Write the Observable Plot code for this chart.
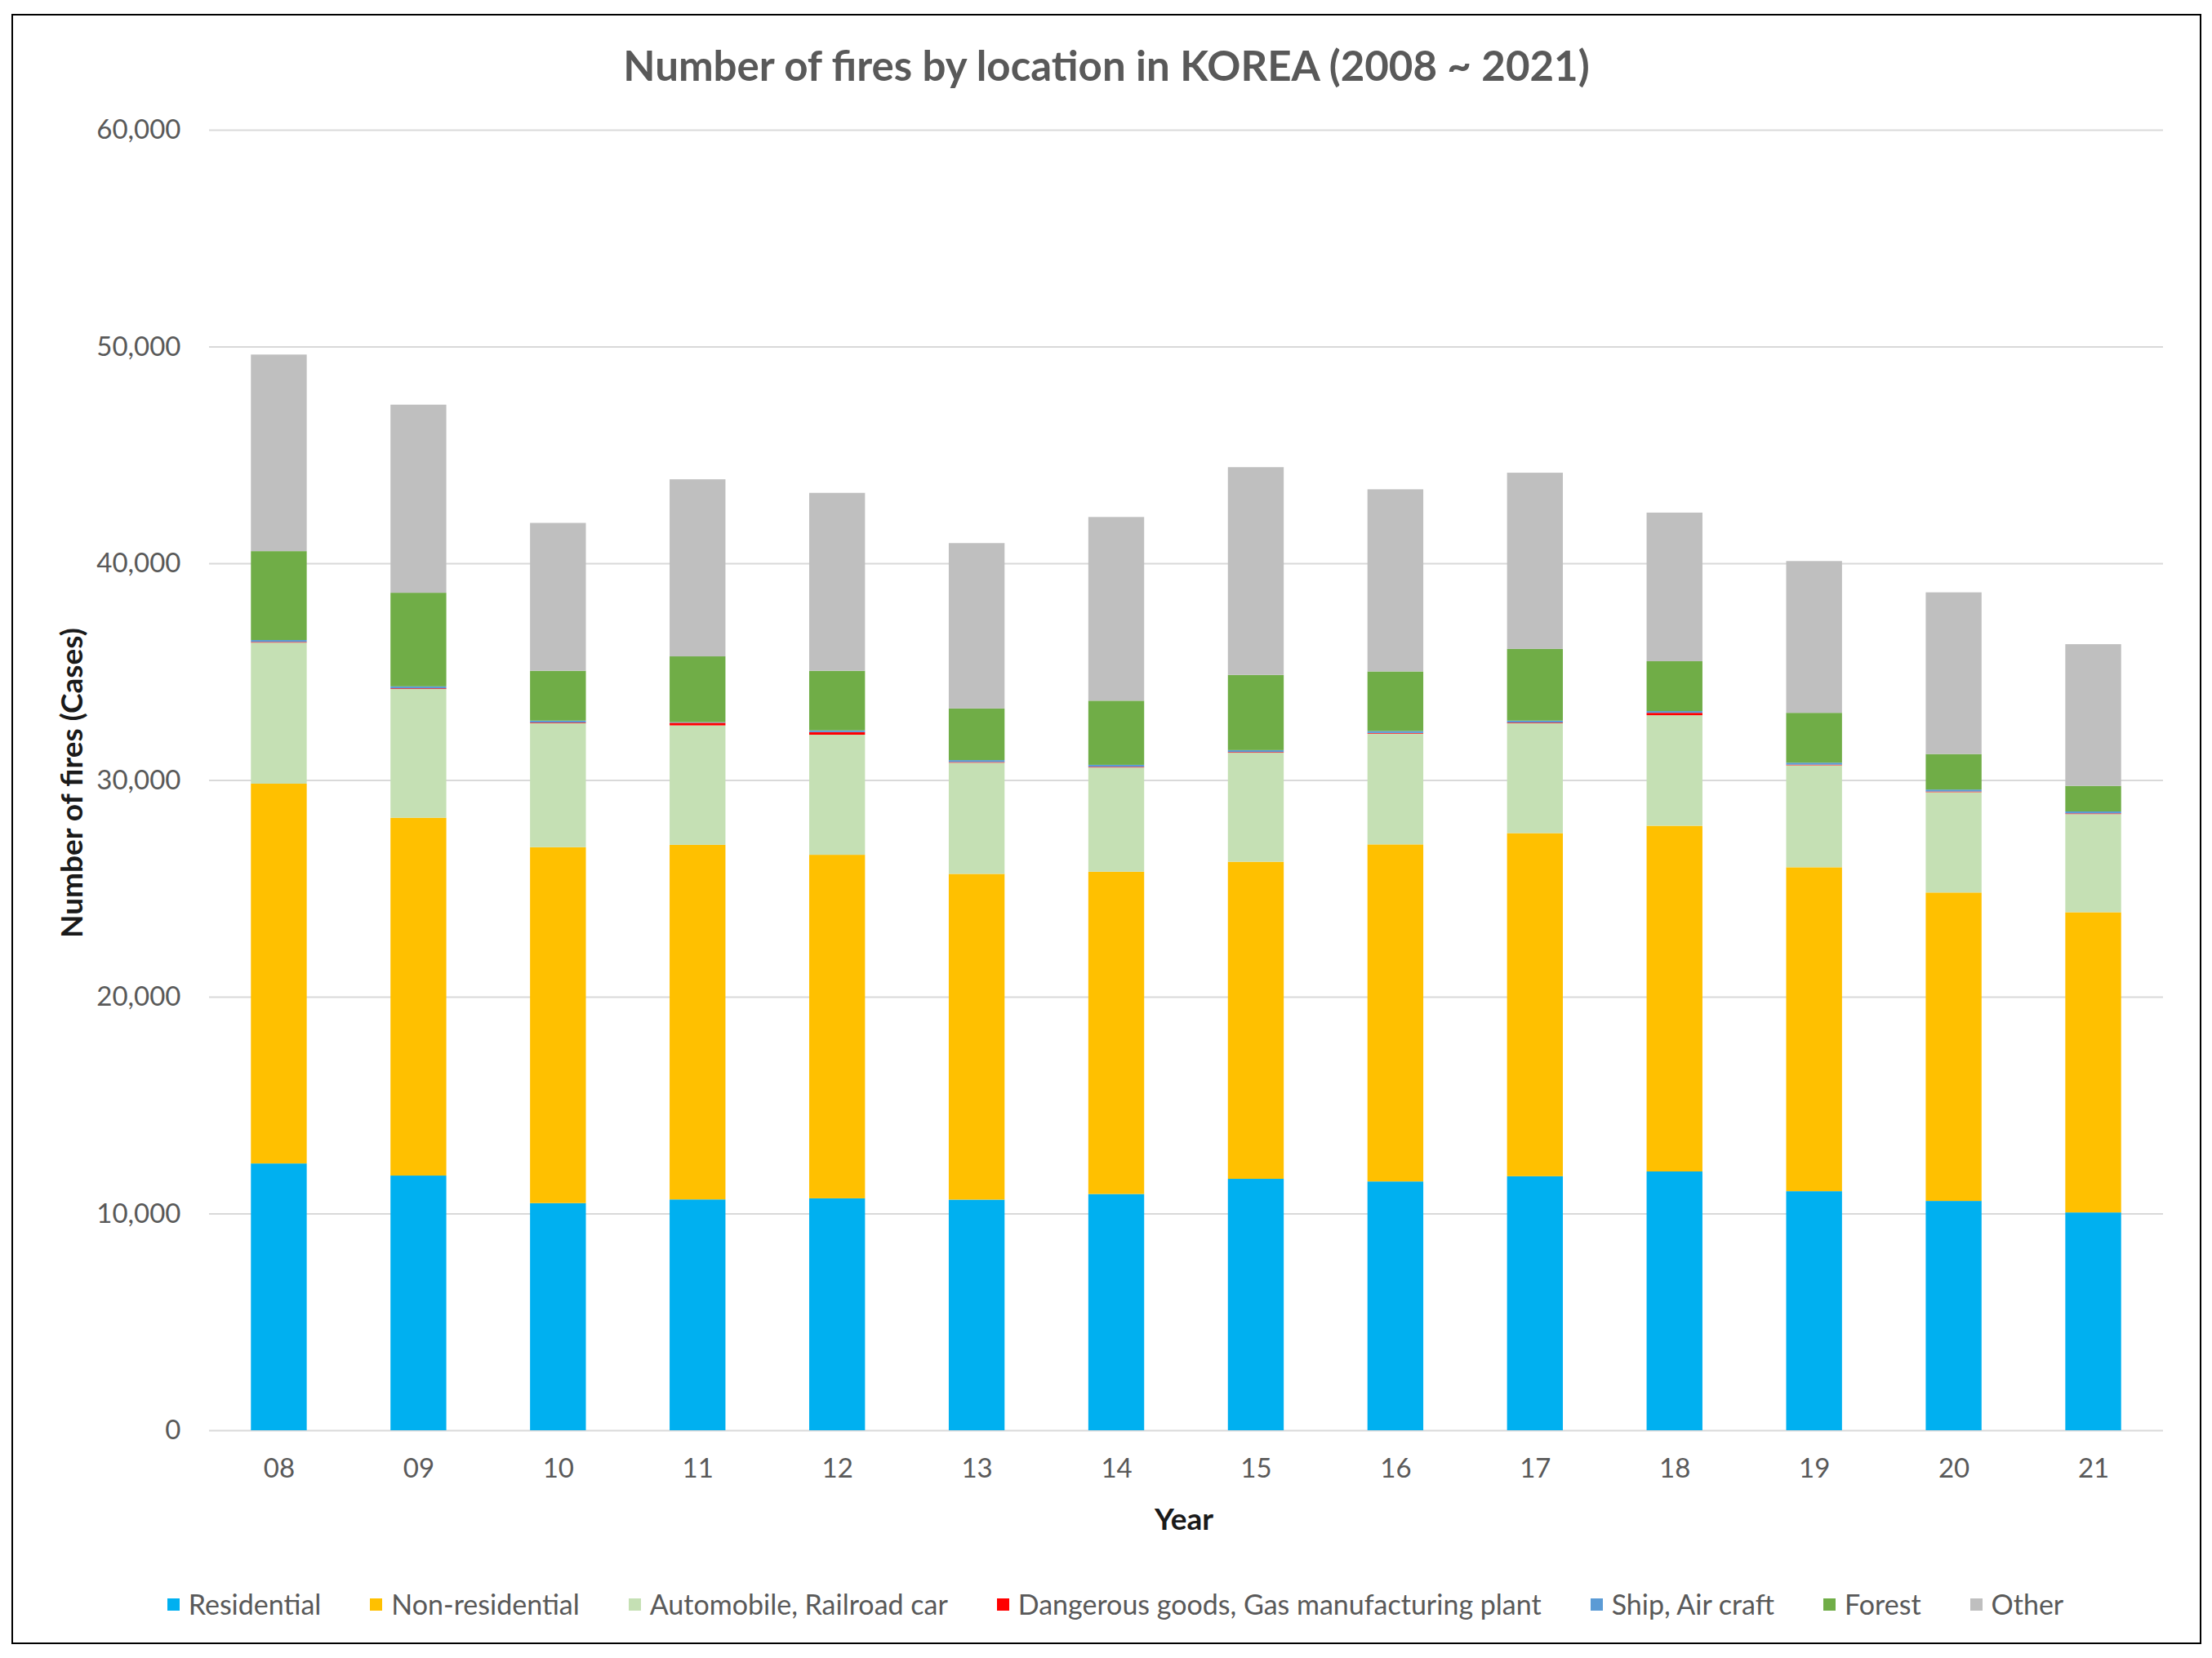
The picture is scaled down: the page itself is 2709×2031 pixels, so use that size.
<!DOCTYPE html>
<html>
<head>
<meta charset="utf-8">
<script src="https://cdn.jsdelivr.net/npm/d3@7"></script>
<script src="https://cdn.jsdelivr.net/npm/@observablehq/plot@0.6"></script>
<style>
  html, body { margin: 0; padding: 0; background: #fff; }
  body { width: 2709px; height: 2031px; position: relative; overflow: hidden; font-family: Lato, "Open Sans", sans-serif; }
  #frame { position: absolute; left: 14px; top: 17px; width: 2682px; height: 1997px; border: 2.5px solid #000; box-sizing: border-box; }
  #title { position: absolute; left: 14px; width: 2682px; top: 55px; text-align: center; font-size: 51px; line-height: 50px; font-weight: 700; color: #595959; white-space: nowrap; }
  #chart { position: absolute; left: 0; top: 130px; }
  #ylabel { position: absolute; left: 86px; top: 959px; transform: translate(-50%, -50%) rotate(-90deg); font-size: 37px; font-weight: 700; color: #1a1a1a; white-space: nowrap; line-height: 37px; }
  #xlabel { position: absolute; left: 1450px; top: 1859px; transform: translate(-50%, -50%); font-size: 37px; font-weight: 700; color: #1a1a1a; white-space: nowrap; line-height: 37px; }
  #legend { position: absolute; left: 25px; width: 2682px; top: 1948px; display: flex; justify-content: center; align-items: center; font-size: 34px; line-height: 34px; color: #595959; white-space: nowrap; }
  .item { display: flex; align-items: center; margin: 0 30px; }
  .sw { width: 15px; height: 15px; margin-right: 11px; }
</style>
</head>
<body>
<div id="frame"></div>
<div id="title">Number of fires by location in KOREA (2008 ~ 2021)</div>
<div id="chart"></div>
<div id="ylabel">Number of fires (Cases)</div>
<div id="xlabel">Year</div>
<div id="legend"></div>
<script>
// ---- data ----
const years = ["08","09","10","11","12","13","14","15","16","17","18","19","20","21"];
const seriesNames = ["Residential","Non-residential","Automobile, Railroad car","Dangerous goods, Gas manufacturing plant","Ship, Air craft","Forest","Other"];
const seriesColors = ["#00B0F0","#FFC000","#C5E0B4","#FF0000","#5B9BD5","#70AD47","#BFBFBF"];
const residential    = [12310, 11750, 10480, 10650, 10700, 10640, 10900, 11600, 11480, 11720, 11940, 11030, 10580, 10050];
const nonResidential = [17520, 16510, 16420, 16360, 15850, 15030, 14870, 14630, 15550, 15830, 15950, 14945, 14230, 13850];
const automobile     = [ 6510,  5940,  5720,  5510,  5540,  5130,  4810,  5030,  5110,  5070,  5100,  4705,  4630,  4530];
const dangerous      = [   30,    30,    30,   120,   120,    30,    30,    30,    30,    30,   110,    30,    30,    30];
const ship           = [   90,    90,    90,    30,    80,    90,    90,    90,    90,    90,    80,    90,    90,    90];
const forest         = [ 4100,  4320,  2300,  3035,  2750,  2380,  2960,  3470,  2750,  3310,  2300,  2300,  1640,  1180];
const other          = [ 9071,  8678,  6823,  8170,  8209,  7632,  8475,  9585,  8403,  8128,  6858,  7003,  7459,  6537];
const yTicks = [0, 10000, 20000, 30000, 40000, 50000, 60000];

const seriesValues = [residential, nonResidential, automobile, dangerous, ship, forest, other];
const table = [];
years.forEach((yr, i) => {
  seriesNames.forEach((name, s) => {
    table.push({year: yr, type: name, value: seriesValues[s][i]});
  });
});

const chart = Plot.plot({
  width: 2709,
  height: 1700,
  marginLeft: 256,
  marginRight: 60,
  marginTop: 29,
  marginBottom: 78,
  style: {fontFamily: "Lato, 'Open Sans', sans-serif", fontSize: "33px", color: "#595959", background: "transparent"},
  x: {domain: years, paddingInner: 0.6, paddingOuter: 0.3, round: false},
  y: {domain: [0, 60000]},
  color: {domain: seriesNames, range: seriesColors},
  marks: [
    Plot.ruleY(yTicks, {stroke: "#d9d9d9", strokeWidth: 2}),
    Plot.barY(table, {x: "year", y: "value", fill: "type", order: seriesNames}),
    Plot.axisY({ticks: yTicks, tickSize: 0, tickPadding: 35, tickFormat: d3.format(","), label: null}),
    Plot.axisX({tickSize: 0, tickPadding: 34, label: null})
  ]
});
document.getElementById("chart").appendChild(chart);

const legend = document.getElementById("legend");
seriesNames.forEach((name, s) => {
  const item = document.createElement("div");
  item.className = "item";
  const sw = document.createElement("div");
  sw.className = "sw";
  sw.style.background = seriesColors[s];
  const label = document.createElement("span");
  label.textContent = name;
  item.appendChild(sw);
  item.appendChild(label);
  legend.appendChild(item);
});
</script>
</body>
</html>
